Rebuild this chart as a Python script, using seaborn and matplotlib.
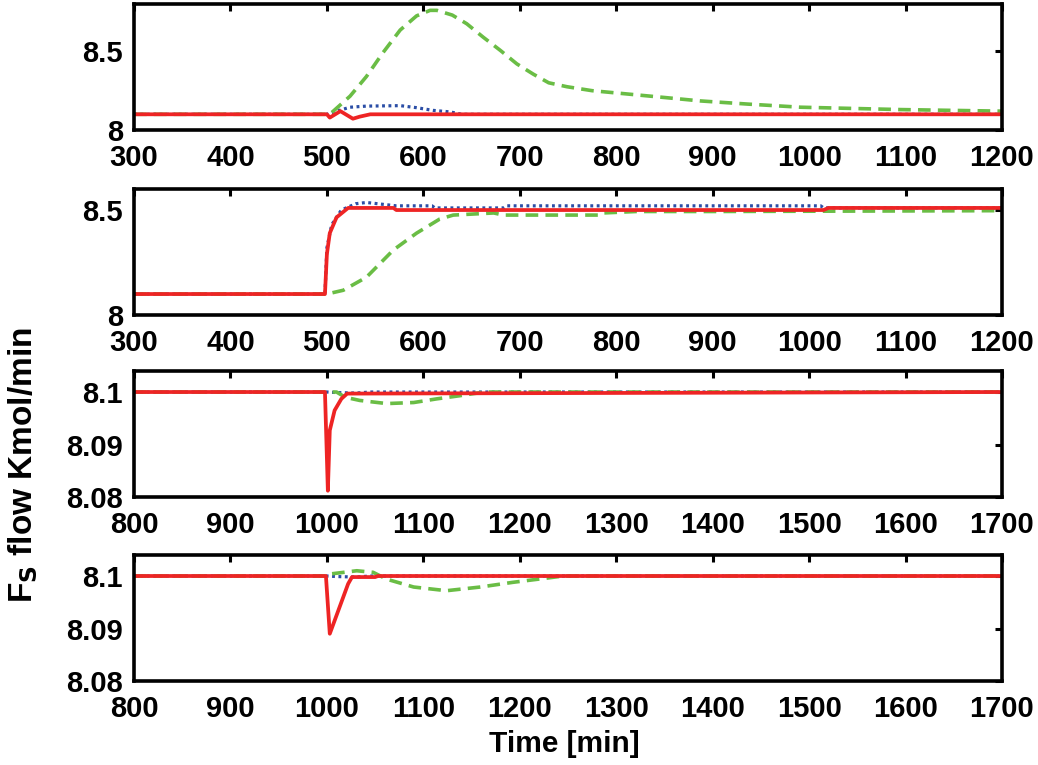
import matplotlib
matplotlib.use("Agg")
import matplotlib.pyplot as plt
import seaborn as sns
import pandas as pd

# ---- panel 1 ----
p1_red_t = [300, 500, 503, 514, 527, 534, 545, 1200]
p1_red_v = [8.1, 8.1, 8.079, 8.12, 8.072, 8.085, 8.1, 8.1]
p1_blue_t = [300, 500, 510, 524, 541, 576, 593, 610, 628, 640, 1200]
p1_blue_v = [8.1, 8.1, 8.12, 8.145, 8.152, 8.155, 8.142, 8.125, 8.115, 8.1, 8.1]
p1_green_t = [300, 500, 503, 524, 541, 558, 576, 593, 607, 614, 630, 645, 662,
              680, 697, 714, 730, 749, 775, 801, 853, 887, 936, 991, 1095, 1200]
p1_green_v = [8.1, 8.1, 8.1, 8.215, 8.34, 8.49, 8.635, 8.725, 8.76, 8.76, 8.73,
              8.675, 8.59, 8.505, 8.42, 8.355, 8.3, 8.275, 8.25, 8.235, 8.205,
              8.185, 8.165, 8.145, 8.13, 8.12]

# ---- panel 2 ----
p2_red_t = [300, 498, 500, 503, 510, 522, 569, 572, 1015, 1020, 1200]
p2_red_v = [8.1, 8.1, 8.29, 8.39, 8.465, 8.51, 8.51, 8.5, 8.5, 8.51, 8.51]
p2_blue_t = [300, 498, 500, 505, 515, 530, 541, 572, 609, 612, 683, 686, 1012, 1015, 1200]
p2_blue_v = [8.1, 8.1, 8.32, 8.43, 8.5, 8.53, 8.536, 8.52, 8.52, 8.51, 8.51,
             8.52, 8.52, 8.51, 8.51]
p2_green_t = [300, 500, 517, 541, 569, 593, 617, 631, 673, 683, 783, 786, 821, 900, 1200]
p2_green_v = [8.1, 8.1, 8.118, 8.18, 8.31, 8.39, 8.457, 8.476, 8.486, 8.476,
              8.476, 8.486, 8.493, 8.493, 8.497]

# ---- panel 3 ----
p3_red_t = [800, 998, 1001, 1003, 1008, 1015, 1021, 1700]
p3_red_v = [8.1, 8.1, 8.0812, 8.0927, 8.0965, 8.0987, 8.0997, 8.1]
p3_blue_t = [800, 1000, 1010, 1030, 1045, 1700]
p3_blue_v = [8.1, 8.1, 8.0999, 8.0998, 8.1, 8.1]
p3_green_t = [800, 1010, 1019, 1034, 1062, 1090, 1114, 1138, 1152, 1165, 1700]
p3_green_v = [8.1, 8.1, 8.099, 8.0984, 8.0978, 8.098, 8.0987, 8.0993, 8.0997, 8.1, 8.1]

# ---- panel 4 ----
p4_red_t = [800, 999, 1003, 1022, 1026, 1050, 1053, 1700]
p4_red_v = [8.1, 8.1, 8.089, 8.0985, 8.0998, 8.0998, 8.1, 8.1]
p4_blue_t = [800, 1000, 1010, 1030, 1045, 1700]
p4_blue_v = [8.1, 8.1, 8.0999, 8.0998, 8.1, 8.1]
p4_green_t = [800, 1000, 1004, 1031, 1048, 1062, 1090, 1124, 1159, 1193, 1228, 1245, 1700]
p4_green_v = [8.1, 8.1, 8.1004, 8.101, 8.1007, 8.0994, 8.0979, 8.0972, 8.0979,
              8.0988, 8.0996, 8.1, 8.1]

x_ticks_top = [300, 400, 500, 600, 700, 800, 900, 1000, 1100, 1200]
x_ticks_bottom = [800, 900, 1000, 1100, 1200, 1300, 1400, 1500, 1600, 1700]
y_ticks_top = [8, 8.5]
y_labels_top = ["8", "8.5"]
y_ticks_bottom = [8.08, 8.09, 8.1]
y_labels_bottom = ["8.08", "8.09", "8.1"]

sns.set_style("white")
plt.rcParams["font.family"] = ["Liberation Sans", "DejaVu Sans"]
plt.rcParams["font.weight"] = "bold"
plt.rcParams["text.color"] = "black"

RED = "#ee2424"
GREEN = "#6abd45"
BLUE = "#2b4ea6"
TICK_SIZE = 21

fig = plt.figure(figsize=(10.38, 7.65), dpi=100)

panels = [
    dict(red=(p1_red_t, p1_red_v), blue=(p1_blue_t, p1_blue_v), green=(p1_green_t, p1_green_v),
         xlim=(300, 1200), ylim=(8, 8.8), xt=x_ticks_top, yt=y_ticks_top, yl=y_labels_top,
         bottom=0.830),
    dict(red=(p2_red_t, p2_red_v), blue=(p2_blue_t, p2_blue_v), green=(p2_green_t, p2_green_v),
         xlim=(300, 1200), ylim=(8, 8.6), xt=x_ticks_top, yt=y_ticks_top, yl=y_labels_top,
         bottom=0.5882),
    dict(red=(p3_red_t, p3_red_v), blue=(p3_blue_t, p3_blue_v), green=(p3_green_t, p3_green_v),
         xlim=(800, 1700), ylim=(8.08, 8.104), xt=x_ticks_bottom, yt=y_ticks_bottom,
         yl=y_labels_bottom, bottom=0.3503),
    dict(red=(p4_red_t, p4_red_v), blue=(p4_blue_t, p4_blue_v), green=(p4_green_t, p4_green_v),
         xlim=(800, 1700), ylim=(8.08, 8.104), xt=x_ticks_bottom, yt=y_ticks_bottom,
         yl=y_labels_bottom, bottom=0.1098),
]

for p in panels:
    ax = fig.add_axes([0.1291, p["bottom"], 0.8362, 0.1647])
    bt, bv = p["blue"]
    gt, gv = p["green"]
    rt, rv = p["red"]
    sns.lineplot(data=pd.DataFrame({"t": bt, "v": bv}), x="t", y="v", ax=ax,
                 color=BLUE, lw=2.3, linestyle=(0, (0.9, 1.1)), sort=False, estimator=None)
    sns.lineplot(data=pd.DataFrame({"t": gt, "v": gv}), x="t", y="v", ax=ax,
                 color=GREEN, lw=2.6, linestyle=(0, (3.5, 2.0)), sort=False, estimator=None)
    sns.lineplot(data=pd.DataFrame({"t": rt, "v": rv}), x="t", y="v", ax=ax,
                 color=RED, lw=2.7, sort=False, estimator=None)
    ax.set_xlim(*p["xlim"])
    ax.set_ylim(*p["ylim"])
    ax.set_xticks(p["xt"])
    ax.set_xticklabels([str(v) for v in p["xt"]])
    ax.set_yticks(p["yt"])
    ax.set_yticklabels(p["yl"])
    ax.set_xlabel("")
    ax.set_ylabel("")
    ax.tick_params(direction="in", length=5, width=2.2, top=True, right=True,
                   labelsize=TICK_SIZE, colors="black")
    ax.tick_params(axis="y", pad=8)
    ax.tick_params(axis="x", pad=10)
    for lab in ax.get_xticklabels() + ax.get_yticklabels():
        lab.set_fontweight("bold")
    for s in ax.spines.values():
        s.set_visible(True)
        s.set_linewidth(2.6)
        s.set_color("black")

fig.text(0.544, 0.027, "Time [min]", ha="center", va="center",
         fontsize=21.5, fontweight="bold", color="black")
fig.text(0.022, 0.392, r"F$_\mathbf{S}$ flow Kmol/min", rotation=90, ha="center",
         va="center", fontsize=24, fontweight="bold", color="black")

fig.savefig("out.png", dpi=100, facecolor="white")
